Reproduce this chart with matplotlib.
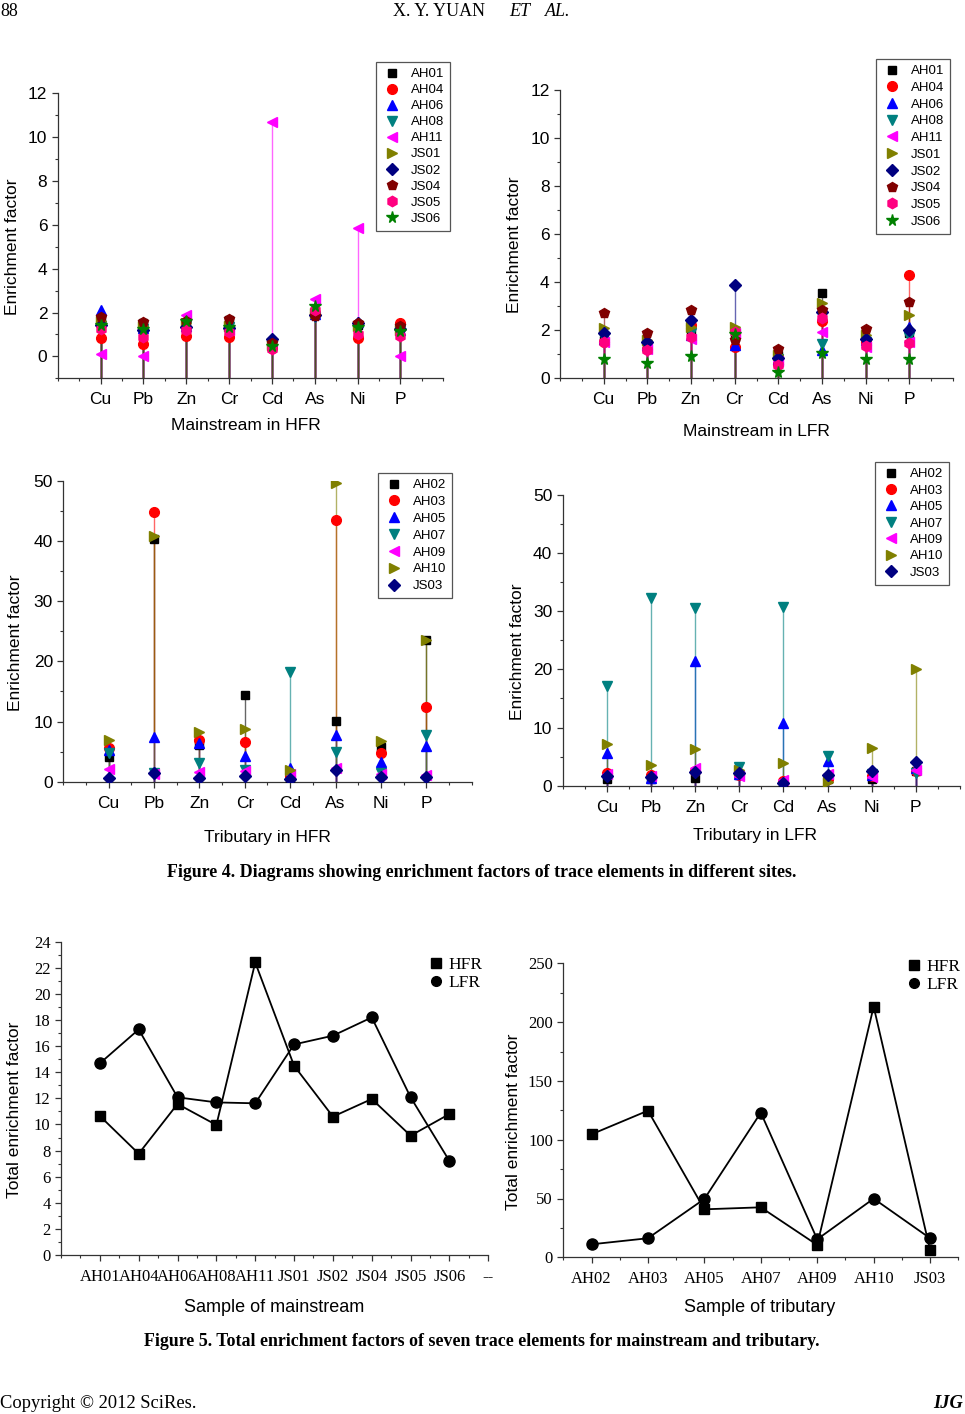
import numpy as np
import matplotlib
matplotlib.use('Agg')
import matplotlib.pyplot as plt
from matplotlib.ticker import MultipleLocator
from matplotlib.lines import Line2D

plt.rcParams['font.family'] = ['Liberation Sans', 'DejaVu Sans']
SERIF = ['Liberation Serif', 'DejaVu Serif']

# ---- data ----
elements = ['Cu', 'Pb', 'Zn', 'Cr', 'Cd', 'As', 'Ni', 'P']

main_sites = ['AH01', 'AH04', 'AH06', 'AH08', 'AH11', 'JS01', 'JS02', 'JS04', 'JS05', 'JS06']
trib_sites = ['AH02', 'AH03', 'AH05', 'AH07', 'AH09', 'AH10', 'JS03']

# Figure 4a: mainstream in HFR
ef_main_hfr = {
    'AH01': [1.70, 1.50, 1.50, 1.65, 0.60, 1.95, 1.45, 1.30],
    'AH04': [0.84, 0.58, 0.95, 0.87, 0.36, 2.00, 0.84, 1.50],
    'AH06': [2.10, 1.30, 1.40, 1.40, 0.70, 1.95, 1.55, 1.20],
    'AH08': [1.40, 1.25, 1.40, 1.35, 0.55, 1.78, 1.30, 1.20],
    'AH11': [0.10, 0.00, 1.90, 1.20, 10.67, 2.62, 5.87, 0.00],
    'JS01': [1.60, 1.40, 1.50, 1.40, 0.50, 2.00, 1.40, 1.20],
    'JS02': [1.45, 1.20, 1.33, 1.30, 0.78, 1.90, 1.50, 1.25],
    'JS04': [1.78, 1.55, 1.60, 1.70, 0.60, 1.86, 1.50, 1.37],
    'JS05': [1.25, 0.87, 1.20, 1.10, 0.34, 2.10, 1.00, 0.95],
    'JS06': [1.45, 1.25, 1.63, 1.36, 0.49, 2.32, 1.33, 1.17],
}
# Figure 4b: mainstream in LFR
ef_main_lfr = {
    'AH01': [1.60, 1.40, 2.00, 1.70, 0.95, 3.56, 1.50, 1.90],
    'AH04': [1.50, 1.20, 2.20, 1.29, 0.60, 2.40, 1.50, 4.30],
    'AH06': [1.65, 1.38, 1.80, 1.38, 0.80, 1.18, 1.60, 2.15],
    'AH08': [1.67, 1.35, 1.87, 1.80, 0.80, 1.42, 1.50, 1.73],
    'AH11': [1.50, 1.20, 1.65, 1.90, 0.70, 1.91, 1.30, 1.50],
    'JS01': [2.08, 1.60, 2.15, 2.15, 0.97, 3.12, 1.80, 2.64],
    'JS02': [1.87, 1.52, 2.43, 3.88, 0.83, 2.77, 1.62, 2.00],
    'JS04': [2.70, 1.87, 2.84, 1.60, 1.20, 2.84, 2.04, 3.19],
    'JS05': [1.52, 1.18, 1.73, 1.94, 0.55, 2.50, 1.35, 1.45],
    'JS06': [0.79, 0.62, 0.93, 1.84, 0.28, 1.04, 0.82, 0.82],
}
# Figure 4c: tributary in HFR
ef_trib_hfr = {
    'AH02': [4.05, 40.25, 6.10, 14.40, 0.50, 10.14, 5.82, 23.50],
    'AH03': [5.55, 44.85, 6.93, 6.54, 1.00, 43.47, 4.82, 12.46],
    'AH05': [5.30, 7.48, 6.40, 4.27, 2.20, 7.76, 3.33, 5.93],
    'AH07': [4.70, 1.40, 3.05, 1.96, 18.27, 4.99, 1.39, 7.76],
    'AH09': [2.05, 1.30, 1.66, 1.70, 1.20, 2.20, 1.20, 1.10],
    'AH10': [6.93, 40.80, 8.30, 8.70, 1.96, 49.67, 6.82, 23.50],
    'JS03': [0.56, 1.40, 0.56, 0.95, 0.39, 1.94, 0.72, 0.83],
}
# Figure 4d: tributary in LFR
ef_trib_lfr = {
    'AH02': [1.09, 1.10, 1.30, 1.80, 0.30, 1.20, 1.20, 2.50],
    'AH03': [2.20, 1.84, 2.50, 1.80, 0.80, 1.10, 1.60, 2.50],
    'AH05': [5.56, 1.30, 21.50, 2.00, 10.84, 4.25, 1.80, 3.00],
    'AH07': [17.20, 32.34, 30.50, 3.28, 30.80, 5.10, 2.00, 2.13],
    'AH09': [2.00, 1.70, 3.00, 1.67, 0.98, 2.00, 1.55, 2.70],
    'AH10': [7.20, 3.56, 6.26, 2.70, 3.84, 0.70, 6.40, 20.00],
    'JS03': [1.67, 1.44, 2.40, 2.24, 0.52, 1.84, 2.53, 4.13],
}

# Figure 5: total enrichment factor
main_labels = main_sites + ['--']
total_main_hfr = [10.65, 7.76, 11.57, 9.96, 22.41, 14.50, 10.60, 11.95, 9.14, 10.80]
total_main_lfr = [14.68, 17.28, 12.08, 11.69, 11.62, 16.13, 16.80, 18.20, 12.08, 7.20]
total_trib_hfr = [104.6, 124.7, 40.8, 42.5, 10.5, 213.2, 6.2]
total_trib_lfr = [11.05, 16.2, 49.6, 123.0, 15.3, 49.9, 16.2]

# ---- styles (Origin-like) ----
style = {
    'AH01': ('black', 's'), 'AH04': ('#FF0000', 'o'), 'AH06': ('#0000FF', '^'),
    'AH08': ('#008080', 'v'), 'AH11': ('#FF00FF', '<'), 'JS01': ('#808000', '>'),
    'JS02': ('#000080', 'D'), 'JS04': ('#800000', 'p'), 'JS05': ('#FF0080', 'h'),
    'JS06': ('#008000', '*'),
    'AH02': ('black', 's'), 'AH03': ('#FF0000', 'o'), 'AH05': ('#0000FF', '^'),
    'AH07': ('#008080', 'v'), 'AH09': ('#FF00FF', '<'), 'AH10': ('#808000', '>'),
    'JS03': ('#000080', 'D'),
}
msize = {'s': 6, 'o': 7, '^': 7.5, 'v': 7.5, '<': 7.5, '>': 7.5, 'D': 6.5, 'p': 7.5, 'h': 7.5, '*': 8.5}

W, H = 965, 1414
fig = plt.figure(figsize=(W / 100, H / 100), dpi=100)


def px_axes(l, r, t, b):
    return fig.add_axes([l / W, 1 - b / H, (r - l) / W, (b - t) / H])


def base_style(ax, labelsize, serif_ticks=False):
    for sp in ['top', 'right']:
        ax.spines[sp].set_visible(False)
    for sp in ['left', 'bottom']:
        ax.spines[sp].set_linewidth(0.9)
        ax.spines[sp].set_color('#333333')
    ax.tick_params(which='major', direction='out', length=4, width=0.9, color='#333333', labelsize=labelsize)
    ax.tick_params(which='minor', direction='out', length=2.5, width=0.8, color='#333333')
    ax.tick_params(axis='x', which='major', pad=6)
    if serif_ticks:
        for lab in ax.get_xticklabels() + ax.get_yticklabels():
            lab.set_family(SERIF)


def drop_panel(ax, data, sites, ymin, ymax, ymaj, ymin_step, xlabel, lab_coords, leg_anchor, lspace):
    x = np.arange(1, len(elements) + 1)
    # drop lines from the axis bottom up to every point
    for s in sites:
        col, mk = style[s]
        ax.vlines(x, ymin, data[s], color=col, lw=1.0, alpha=0.6, zorder=1)
    for s in sites:
        col, mk = style[s]
        ax.plot(x, data[s], ls='none', marker=mk, color=col, ms=msize[mk], label=s, zorder=3)
    ax.set_xlim(0, 9)
    ax.set_ylim(ymin, ymax)
    ax.set_xticks(x)
    ax.set_xticklabels(elements)
    ax.xaxis.set_minor_locator(MultipleLocator(0.5))
    ax.yaxis.set_major_locator(MultipleLocator(ymaj))
    ax.yaxis.set_minor_locator(MultipleLocator(ymin_step))
    ax.set_yticks(np.arange(0, ymax + 0.01, ymaj))
    base_style(ax, 12.5)
    ax.set_ylabel('Enrichment factor', fontsize=12.5, va='center')
    ax.set_xlabel(xlabel, fontsize=12.5, va='center')
    ax.yaxis.set_label_coords(lab_coords[0], lab_coords[1])
    ax.xaxis.set_label_coords(lab_coords[2], lab_coords[3])
    ax.legend(loc='upper right', bbox_to_anchor=leg_anchor, bbox_transform=fig.transFigure,
              fontsize=9.5, handlelength=1.4, handletextpad=0.75, labelspacing=lspace,
              borderpad=0.45, borderaxespad=0, fancybox=False, edgecolor='#555555',
              framealpha=1, numpoints=1)
    ax.get_legend().get_frame().set_linewidth(0.9)


ax1 = px_axes(57.7, 443.3, 93.3, 378.3)
drop_panel(ax1, ef_main_hfr, main_sites, -1, 12, 2, 1, 'Mainstream in HFR',
           (-0.1185, 0.461, 0.488, -0.164), (450 / W, 1 - 62 / H), 0.29)

ax2 = px_axes(560, 953, 90, 378.3)
drop_panel(ax2, ef_main_lfr, main_sites, 0, 12, 2, 1, 'Mainstream in LFR',
           (-0.117, 0.462, 0.501, -0.183), (950 / W, 1 - 59 / H), 0.34)

ax3 = px_axes(63.3, 471.7, 480.7, 781.7)
drop_panel(ax3, ef_trib_hfr, trib_sites, 0, 50, 10, 5, 'Tributary in HFR',
           (-0.118, 0.461, 0.501, -0.187), (452 / W, 1 - 473 / H), 0.35)

ax4 = px_axes(562.7, 960, 495, 785.7)
drop_panel(ax4, ef_trib_lfr, trib_sites, 0, 50, 10, 5, 'Tributary in LFR',
           (-0.115, 0.46, 0.484, -0.173), (949 / W, 1 - 462 / H), 0.32)


def total_panel(ax, labels, hfr, lfr, xlim, ylim, ymaj, ymin_step, xlabel, lab_coords, leg_anchor):
    x = np.arange(1, len(hfr) + 1)
    ax.plot(x, hfr, color='black', lw=1.3, marker='s', ms=7.5, zorder=3)
    ax.plot(x, lfr, color='black', lw=1.3, marker='o', ms=8, zorder=3)
    ax.set_xlim(*xlim)
    ax.set_ylim(*ylim)
    ax.set_xticks(np.arange(1, len(labels) + 1))
    ax.set_xticklabels(labels)
    ax.xaxis.set_minor_locator(MultipleLocator(0.5))
    ax.yaxis.set_major_locator(MultipleLocator(ymaj))
    ax.yaxis.set_minor_locator(MultipleLocator(ymin_step))
    base_style(ax, 12, serif_ticks=True)
    ax.set_ylabel('Total enrichment factor', fontsize=12.5, va='center')
    ax.set_xlabel(xlabel, fontsize=13, va='center')
    ax.yaxis.set_label_coords(lab_coords[0], lab_coords[1])
    ax.xaxis.set_label_coords(lab_coords[2], lab_coords[3])
    handles = [Line2D([], [], ls='none', marker='s', color='black', ms=7),
               Line2D([], [], ls='none', marker='o', color='black', ms=7)]
    ax.legend(handles, ['HFR', 'LFR'], loc='upper right', bbox_to_anchor=leg_anchor,
              bbox_transform=fig.transFigure, frameon=False, prop={'family': SERIF, 'size': 12.5},
              handlelength=0.8, handletextpad=0.3, labelspacing=0.1, borderpad=0, borderaxespad=0)


ax5 = px_axes(61, 488.3, 941.7, 1255)
total_panel(ax5, main_labels, total_main_hfr, total_main_lfr, (0, 11), (0, 24), 2, 1,
            'Sample of mainstream', (-0.108, 0.463, 0.4985, -0.169), (482 / W, 1 - 957 / H))

ax6 = px_axes(563.3, 958.3, 963.3, 1257.3)
total_panel(ax6, trib_sites, total_trib_hfr, total_trib_lfr, (0.5, 7.5), (0, 250), 50, 25,
            'Sample of tributary', (-0.125, 0.46, 0.498, -0.172), (960 / W, 1 - 959 / H))

# ---- page furniture ----
ytop = 1 - 11 / H
fig.text(0.0, ytop, '88', family=SERIF, fontsize=13, va='center', ha='left')
fig.text(393 / W, ytop, 'X. Y. YUAN', family=SERIF, fontsize=13, va='center', ha='left')
fig.text(509 / W, ytop, 'ET', family=SERIF, fontsize=13, style='italic', va='center', ha='left')
fig.text(545 / W, ytop, 'AL.', family=SERIF, fontsize=13, style='italic', va='center', ha='left')

fig.text(482 / W, 1 - 873 / H,
         'Figure 4. Diagrams showing enrichment factors of trace elements in different sites.',
         family=SERIF, fontsize=12.9, weight='bold', ha='center', va='center')
fig.text(482 / W, 1 - 1342 / H,
         'Figure 5. Total enrichment factors of seven trace elements for mainstream and tributary.',
         family=SERIF, fontsize=12.9, weight='bold', ha='center', va='center')

yb = 1 - 1403 / H
fig.text(0.0, yb, 'Copyright \u00a9 2012 SciRes.', family=SERIF, fontsize=13.3, va='center', ha='left')
fig.text(963 / W, yb, 'IJG', family=SERIF, fontsize=13.3, weight='bold', style='italic',
         va='center', ha='right')

fig.savefig('out.png', dpi=100)
